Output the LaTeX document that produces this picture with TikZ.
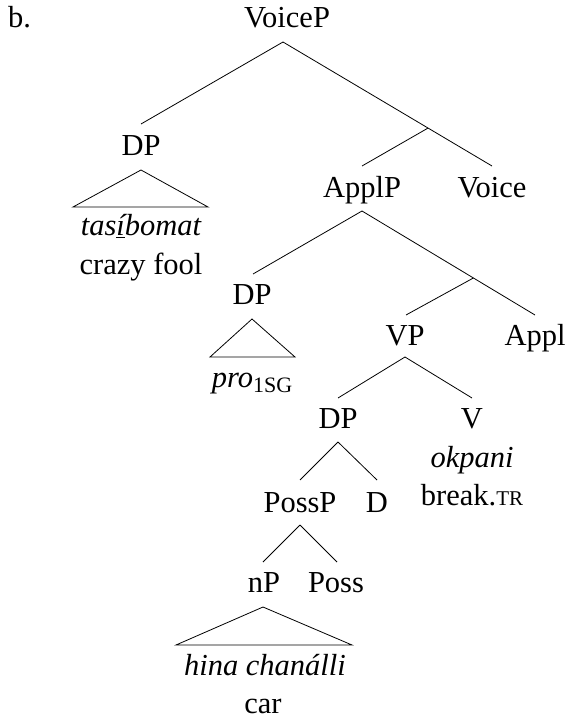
\documentclass[tikz,border=0pt]{standalone}
\usepackage{fontspec}
\setmainfont{Liberation Serif}
\usetikzlibrary{calc}
\newcommand{\smc}[1]{{\fontsize{21}{21}\selectfont #1}}
\begin{document}
\begin{tikzpicture}[x=1pt,y=-1pt,
  lab/.style={anchor=base,inner sep=0pt,font=\fontsize{30.5}{36}\selectfont},
  edge/.style={line width=0.8pt,line join=miter}]
\useasboundingbox (0,0) rectangle (567,719);
% labels
\node[lab,anchor=base west] (b) at (8,28) {b.};
\node[lab] (VoiceP) at (287,28) {VoiceP};
\node[lab] (DP1) at (141,156) {DP};
\node[lab] (tas) at (141,236) {\itshape tas\underline{í}bomat};
\node[lab] (crazy) at (141,274) {crazy fool};
\node[lab] (ApplP) at (362,197) {ApplP};
\node[lab] (Voice) at (492,197) {Voice};
\node[lab] (DP2) at (252,304) {DP};
\node[lab] (pro) at (252,387) {\itshape pro\raisebox{-5pt}{\upshape\fontsize{22}{22}\selectfont 1SG}};
\node[lab] (VP) at (405,345) {VP};
\node[lab] (Appl) at (535,345) {Appl};
\node[lab] (DP3) at (338,428) {DP};
\node[lab] (V) at (472,428) {V};
\node[lab] (okpani) at (472,467) {\itshape okpani};
\node[lab] (break) at (472,505) {break.\smc{TR}};
\node[lab] (PossP) at (300,512) {PossP};
\node[lab] (D) at (377,512) {D};
\node[lab] (nP) at (264,592) {nP};
\node[lab] (Poss) at (336,592) {Poss};
\node[lab] (hina) at (265,675) {\itshape hina chanálli};
\node[lab] (car) at (263,713) {car};
% connector points
\coordinate (VoicePa) at (283,42);
\coordinate (DP1t) at (141,124);
\coordinate (Voicet) at (492,166);
\coordinate (VoiceB) at ($(VoicePa)!0.694!(Voicet)$);
\coordinate (ApplPt) at (362,166);
\coordinate (ApplPa) at (362,211);
\coordinate (DP2t) at (253,274);
\coordinate (Applt) at (535,315);
\coordinate (ApplB) at ($(ApplPa)!0.644!(Applt)$);
\coordinate (VPt) at (406,315);
\coordinate (VPa) at (405,357);
\coordinate (DP3t) at (338,398);
\coordinate (Vt) at (472,398);
\coordinate (DP3a) at (338,442);
\coordinate (PossPt) at (300,480);
\coordinate (Dt) at (377,480);
\coordinate (PossPa) at (300,525);
\coordinate (nPt) at (263,562);
\coordinate (Posst) at (337,562);
% triangles
\coordinate (T1a) at (141,170); \coordinate (T1l) at (73,207); \coordinate (T1r) at (208,207);
\coordinate (T2a) at (252,319); \coordinate (T2l) at (210,357); \coordinate (T2r) at (295,357);
\coordinate (T3a) at (263,607); \coordinate (T3l) at (176,645); \coordinate (T3r) at (352,645);
% edges
\draw[edge] (VoicePa) -- (DP1t);
\draw[edge] (VoicePa) -- (Voicet);
\draw[edge] (VoiceB) -- (ApplPt);
\draw[edge] (ApplPa) -- (DP2t);
\draw[edge] (ApplPa) -- (Applt);
\draw[edge] (ApplB) -- (VPt);
\draw[edge] (VPa) -- (DP3t);
\draw[edge] (VPa) -- (Vt);
\draw[edge] (DP3a) -- (PossPt);
\draw[edge] (DP3a) -- (Dt);
\draw[edge] (PossPa) -- (nPt);
\draw[edge] (PossPa) -- (Posst);
\draw[edge] (T1a) -- (T1r) -- (T1l) -- cycle;
\draw[edge] (T2a) -- (T2r) -- (T2l) -- cycle;
\draw[edge] (T3a) -- (T3r) -- (T3l) -- cycle;
\end{tikzpicture}
\end{document}
